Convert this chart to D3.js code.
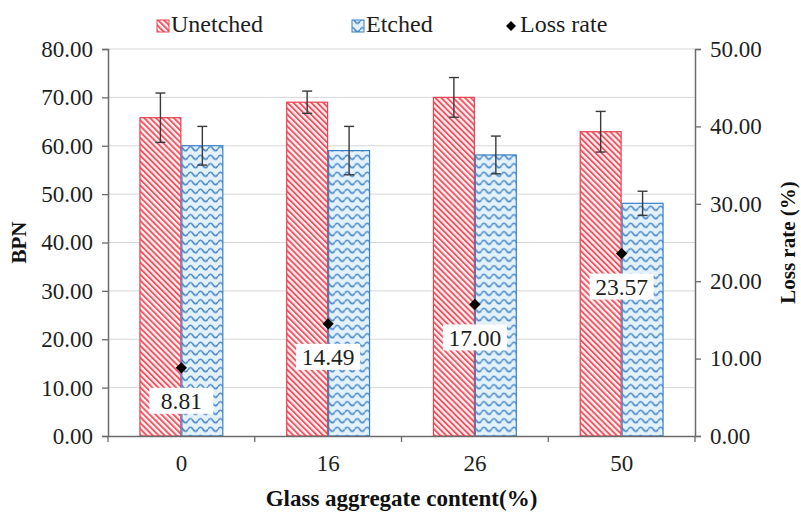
<!DOCTYPE html>
<html>
<head>
<meta charset="utf-8">
<script src="https://cdn.jsdelivr.net/npm/d3@7"></script>
<style>
  html, body { margin: 0; padding: 0; background: #fff; }
  svg { display: block; font-family: "Liberation Serif", "Times New Roman", serif; }
</style>
</head>
<body>
<svg id="chart" width="801" height="513"></svg>
<script>
// Glass aggregate content (%) on the x axis
const categories = ["0", "16", "26", "50"];
const seriesNames = ["Unetched", "Etched"];
// BPN means and error bar half-widths
const unetched = [65.8, 69.0, 70.0, 62.9];
const unetchedErr = [5.1, 2.3, 4.1, 4.2];
const etched = [60.0, 59.0, 58.1, 48.1];
const etchedErr = [4.0, 5.0, 3.9, 2.5];
// Loss rate (%) on the right axis
const lossRate = [8.81, 14.49, 17.00, 23.57];
const leftTicks = [0, 10, 20, 30, 40, 50, 60, 70, 80];
const rightTicks = [0, 10, 20, 30, 40, 50];

const svg = d3.select("#chart");
const margin = { left: 108, right: 106, top: 49, bottom: 77 };
const W = 801, H = 513;
const x0 = d3.scaleBand().domain(categories).range([margin.left, W - margin.right]).padding(0);
const x1 = d3.scaleBand().domain(seriesNames).range([0, x0.bandwidth()]).paddingInner(0).paddingOuter(0.75);
const yL = d3.scaleLinear().domain([0, 80]).range([H - margin.bottom, margin.top]);
const yR = d3.scaleLinear().domain([0, 50]).range([H - margin.bottom, margin.top]);

const red = "#e8414f", blue = "#3a7fc6";

// hatch fills
const defs = svg.append("defs");
const hatch = defs.append("pattern").attr("id", "hatchRed")
  .attr("patternUnits", "userSpaceOnUse").attr("width", 4.2).attr("height", 10)
  .attr("patternTransform", "rotate(-45)");
hatch.append("rect").attr("width", 4.2).attr("height", 10).attr("fill", "#fff1f1");
hatch.append("rect").attr("width", 1.9).attr("height", 10).attr("fill", "#ec5563");

const wave = defs.append("pattern").attr("id", "waveBlue")
  .attr("patternUnits", "userSpaceOnUse").attr("width", 10).attr("height", 8.5);
wave.append("rect").attr("width", 10).attr("height", 8.5).attr("fill", "#e3f1fb");
wave.append("path").attr("d", "M0,4.2 Q2.5,0 5,4.2 T10,4.2")
  .attr("fill", "none").attr("stroke", "#4a88c9").attr("stroke-width", 1.6);

// gridlines
svg.append("g").selectAll("line").data(leftTicks.filter(d => d > 0)).join("line")
  .attr("x1", margin.left).attr("x2", W - margin.right)
  .attr("y1", d => yL(d)).attr("y2", d => yL(d))
  .attr("stroke", "#d6d6d6").attr("stroke-width", 1);

// bars
const rows = categories.map((c, i) => ({
  c,
  vals: [
    { s: "Unetched", v: unetched[i], e: unetchedErr[i] },
    { s: "Etched", v: etched[i], e: etchedErr[i] }
  ]
}));
const groups = svg.append("g").selectAll("g").data(rows).join("g")
  .attr("transform", d => `translate(${x0(d.c)},0)`);
groups.selectAll("rect").data(d => d.vals).join("rect")
  .attr("x", d => x1(d.s) + 0.5).attr("width", x1.bandwidth() - 1)
  .attr("y", d => yL(d.v)).attr("height", d => yL(0) - yL(d.v))
  .attr("fill", d => d.s === "Unetched" ? "url(#hatchRed)" : "url(#waveBlue)")
  .attr("stroke", d => d.s === "Unetched" ? red : blue).attr("stroke-width", 1.2);

// error bars
const eb = groups.selectAll("g.err").data(d => d.vals).join("g").attr("class", "err")
  .attr("stroke", "#3a3a3a").attr("stroke-width", 1.4);
const cx = d => x1(d.s) + x1.bandwidth() / 2;
eb.append("line").attr("x1", cx).attr("x2", cx)
  .attr("y1", d => yL(d.v + d.e)).attr("y2", d => yL(d.v - d.e));
eb.append("line").attr("x1", d => cx(d) - 5).attr("x2", d => cx(d) + 5)
  .attr("y1", d => yL(d.v + d.e)).attr("y2", d => yL(d.v + d.e));
eb.append("line").attr("x1", d => cx(d) - 5).attr("x2", d => cx(d) + 5)
  .attr("y1", d => yL(d.v - d.e)).attr("y2", d => yL(d.v - d.e));

// axes
const axisColor = "#6b6b6b";
const fs = "23px";
const gL = svg.append("g").attr("transform", `translate(${margin.left},0)`)
  .call(d3.axisLeft(yL).tickValues(leftTicks).tickFormat(d3.format(".2f")).tickSizeOuter(0).tickSize(6).tickPadding(9));
const gR = svg.append("g").attr("transform", `translate(${W - margin.right},0)`)
  .call(d3.axisRight(yR).tickValues(rightTicks).tickFormat(d3.format(".2f")).tickSizeOuter(0).tickSize(6).tickPadding(9));
const gX = svg.append("g").attr("transform", `translate(0,${yL(0)})`)
  .call(d3.axisBottom(x0).tickSize(0).tickPadding(19));
// category boundary ticks
const bounds = categories.map(c => x0(c)).concat([x0.range()[1]]);
svg.append("g").selectAll("line").data(bounds).join("line")
  .attr("x1", d => d).attr("x2", d => d).attr("y1", yL(0)).attr("y2", yL(0) + 6)
  .attr("stroke", axisColor).attr("stroke-width", 1.3);

[gL, gR, gX].forEach(g => {
  g.select(".domain").attr("stroke", axisColor).attr("stroke-width", 1.5);
  g.selectAll(".tick line").attr("stroke", axisColor).attr("stroke-width", 1.3);
  g.selectAll("text").attr("font-family", "Liberation Serif").attr("font-size", fs).attr("fill", "#1e1e1e");
});

// loss rate points with value labels
const pts = svg.append("g").selectAll("g").data(lossRate).join("g")
  .attr("transform", (d, i) => `translate(${x0(categories[i]) + x0.bandwidth() / 2},${yR(d)})`);
pts.append("path").attr("d", d3.symbol(d3.symbolSquare, 64)).attr("transform", "rotate(45)").attr("fill", "#000");
const lab = pts.append("g").attr("transform", "translate(0,33)");
lab.append("rect").attr("x", -32).attr("y", -13).attr("width", 64).attr("height", 26).attr("fill", "#fff");
lab.append("text").attr("text-anchor", "middle").attr("dy", "0.36em")
  .attr("font-size", "23.5px").attr("fill", "#1e1e1e").text(d => d.toFixed(2));

// axis titles
svg.append("text").attr("transform", `translate(26,${(yL(0) + yL(80)) / 2}) rotate(-90)`)
  .attr("text-anchor", "middle").attr("font-weight", "bold").attr("font-size", "21px").attr("fill", "#111").text("BPN");
svg.append("text").attr("transform", `translate(795,${(yL(0) + yL(80)) / 2}) rotate(-90)`)
  .attr("text-anchor", "middle").attr("font-weight", "bold").attr("font-size", "21px").attr("fill", "#111").text("Loss rate (%)");
svg.append("text").attr("x", (margin.left + W - margin.right) / 2).attr("y", 506)
  .attr("text-anchor", "middle").attr("font-weight", "bold").attr("font-size", "23px").attr("fill", "#111").text("Glass aggregate content(%)");

// legend
const legend = svg.append("g").attr("font-size", "24px").attr("fill", "#1e1e1e");
const leg = [
  { name: "Unetched", x: 157, fill: "url(#hatchRed)", stroke: red },
  { name: "Etched", x: 352, fill: "url(#waveBlue)", stroke: blue },
  { name: "Loss rate", x: 506, fill: null }
];
leg.forEach(l => {
  if (l.fill) {
    legend.append("rect").attr("x", l.x).attr("y", 20).attr("width", 12).attr("height", 12)
      .attr("fill", l.fill).attr("stroke", l.stroke).attr("stroke-width", 1);
  } else {
    legend.append("path").attr("d", d3.symbol(d3.symbolSquare, 50))
      .attr("transform", `translate(${l.x + 5},26) rotate(45)`).attr("fill", "#000");
  }
  legend.append("text").attr("x", l.x + 14).attr("y", 32).text(l.name);
});
</script>
</body>
</html>
